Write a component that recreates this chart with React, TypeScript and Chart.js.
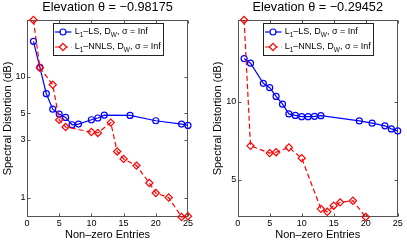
import React, { useEffect, useRef } from 'react';
import { Chart, registerables } from 'chart.js';

Chart.register(...registerables);

// ---------------- data ----------------
const xTickValues = [0, 5, 10, 15, 20, 25];
const xAxisLabel = 'Non–zero Entries';
const yAxisLabel = 'Spectral Distortion (dB)';
const legendLabels = ['L_1–LS, D_W, σ = Inf', 'L_1–NNLS, D_W, σ = Inf'];

const leftTitle = 'Elevation θ = −0.98175';
const leftYTicks = [1, 3, 5, 10];
const leftYRange = [0.69, 29.6];
const leftLsX = [1, 2, 3, 4, 5, 6, 7, 8, 10, 11, 12, 16, 20, 24, 25];
const leftLsY = [19.7, 12.0, 7.25, 5.4, 4.92, 4.61, 4.01, 4.06, 4.41, 4.56, 4.82, 4.79, 4.33, 4.06, 3.96];
const leftNnlsX = [1, 2, 4, 5, 6, 10, 11, 13, 14, 15, 17, 19, 20, 22, 24, 25];
const leftNnlsY = [29.6, 11.9, 8.6, 4.4, 3.84, 3.49, 3.43, 4.18, 2.41, 2.09, 1.84, 1.32, 1.09, 1.0, 0.69, 0.7];

const rightTitle = 'Elevation θ = −0.29452';
const rightYTicks = [5, 10];
const rightYRange = [3.6, 20.7];
const rightLsX = [1, 2, 4, 5, 6, 7, 8, 9, 10, 11, 12, 13, 19, 21, 23, 24, 25];
const rightLsY = [14.7, 14.1, 11.8, 11.35, 10.5, 9.8, 8.99, 8.87, 8.77, 8.77, 8.8, 8.85, 8.45, 8.28, 8.09, 7.87, 7.73];
const rightNnlsX = [1, 2, 5, 6, 8, 10, 13, 14, 15, 16, 18, 20];
const rightNnlsY = [20.7, 6.77, 6.35, 6.4, 6.67, 6.07, 3.87, 3.77, 3.98, 4.1, 4.16, 3.6];

// ---------------- styling ----------------
const FONT = "'Liberation Sans', Arial, Helvetica, sans-serif";
const BLUE = '#0000ff';
const RED = '#ff0000';

const axesBoxPlugin = {
  id: 'axesBox',
  beforeDatasetsDraw(chart: any) {
    const { ctx, chartArea: a, scales } = chart;
    ctx.save();
    ctx.strokeStyle = '#555';
    ctx.lineWidth = 1;
    const L = Math.round(a.left) + 0.5;
    const R = Math.round(a.right) - 0.5;
    const T = Math.round(a.top) + 0.5;
    const B = Math.round(a.bottom) - 0.5;
    ctx.strokeRect(L, T, R - L, B - T);
    const tl = 3;
    ctx.beginPath();
    scales.x.ticks.forEach((t: any) => {
      const px = Math.round(scales.x.getPixelForValue(t.value)) + 0.5;
      ctx.moveTo(px, B);
      ctx.lineTo(px, B - tl);
      ctx.moveTo(px, T);
      ctx.lineTo(px, T + tl);
    });
    scales.y.ticks.forEach((t: any) => {
      const py = Math.round(scales.y.getPixelForValue(t.value)) + 0.5;
      ctx.moveTo(L, py);
      ctx.lineTo(L + tl, py);
      ctx.moveTo(R, py);
      ctx.lineTo(R - tl, py);
    });
    ctx.stroke();
    ctx.restore();
  },
};

function drawRich(ctx: CanvasRenderingContext2D, text: string, x: number, y: number, size: number) {
  const parts = text.split(/(_\w)/);
  let cx = x;
  for (const p of parts) {
    if (!p) continue;
    if (p.startsWith('_')) {
      const s = p.slice(1);
      ctx.font = `${size * 0.72}px ${FONT}`;
      ctx.fillText(s, cx, y + size * 0.32);
      cx += ctx.measureText(s).width;
    } else {
      ctx.font = `${size}px ${FONT}`;
      ctx.fillText(p, cx, y);
      cx += ctx.measureText(p).width;
    }
  }
}

const legendPlugin = {
  id: 'matlabLegend',
  afterDatasetsDraw(chart: any) {
    const { ctx, chartArea: a } = chart;
    const w = 110;
    const h = 32;
    const x0 = Math.round(a.right - 24.6 - w);
    const y0 = Math.round(a.top + 2.7);
    ctx.save();
    ctx.fillStyle = '#fff';
    ctx.fillRect(x0, y0, w, h);
    ctx.strokeStyle = '#222';
    ctx.lineWidth = 1;
    ctx.strokeRect(x0 + 0.5, y0 + 0.5, w, h);
    chart.data.datasets.forEach((ds: any, i: number) => {
      const cy = y0 + 9 + i * 15;
      ctx.strokeStyle = ds.borderColor;
      ctx.lineWidth = ds.borderWidth;
      ctx.setLineDash(ds.borderDash || []);
      ctx.beginPath();
      ctx.moveTo(x0 + 2, cy);
      ctx.lineTo(x0 + 18.5, cy);
      ctx.stroke();
      ctx.setLineDash([]);
      const mx = x0 + 10;
      const r = ds.pointRadius;
      ctx.beginPath();
      if (ds.pointStyle === 'rectRot') {
        ctx.moveTo(mx - r, cy);
        ctx.lineTo(mx, cy - r);
        ctx.lineTo(mx + r, cy);
        ctx.lineTo(mx, cy + r);
        ctx.closePath();
      } else {
        ctx.arc(mx, cy, r, 0, Math.PI * 2);
      }
      ctx.fillStyle = '#fff';
      ctx.fill();
      ctx.stroke();
      ctx.fillStyle = '#000';
      ctx.textBaseline = 'middle';
      ctx.textAlign = 'left';
      drawRich(ctx, legendLabels[i], x0 + 21.7, cy, 9);
    });
    ctx.restore();
  },
};

function toPoints(xs: number[], ys: number[]) {
  return xs.map((x, i) => ({ x, y: ys[i] }));
}

type PanelProps = {
  left: number;
  width: number;
  yAxisWidth: number;
  padRight: number;
  title: string;
  yTicks: number[];
  yRange: number[];
  lsX: number[];
  lsY: number[];
  nnlsX: number[];
  nnlsY: number[];
};

function Panel(p: PanelProps) {
  const ref = useRef<HTMLCanvasElement>(null);
  useEffect(() => {
    if (!ref.current) return;
    const chart = new Chart(ref.current, {
      type: 'line',
      data: {
        datasets: [
          {
            label: legendLabels[0],
            data: toPoints(p.lsX, p.lsY),
            borderColor: BLUE,
            borderWidth: 1.2,
            pointStyle: 'circle',
            pointRadius: 3,
            pointBorderWidth: 1.2,
            pointBorderColor: BLUE,
            pointBackgroundColor: 'rgba(0,0,0,0)',
            fill: false,
            tension: 0,
            clip: false,
            order: 1,
          } as any,
          {
            label: legendLabels[1],
            data: toPoints(p.nnlsX, p.nnlsY),
            borderColor: RED,
            borderWidth: 1.2,
            borderDash: [5, 3],
            pointStyle: 'rectRot',
            pointRadius: 3.6,
            pointBorderWidth: 1.2,
            pointBorderColor: RED,
            pointBackgroundColor: 'rgba(0,0,0,0)',
            fill: false,
            tension: 0,
            clip: false,
            order: 0,
          } as any,
        ],
      },
      options: {
        animation: false,
        responsive: false,
        maintainAspectRatio: false,
        devicePixelRatio: 1,
        layout: { padding: { left: 0, right: p.padRight, top: 0, bottom: 0 } },
        plugins: {
          legend: { display: false },
          tooltip: { enabled: false },
          title: {
            display: true,
            text: p.title,
            fullSize: false,
            color: '#000',
            font: { family: FONT, size: 12.7, weight: 'normal', lineHeight: 1.1 },
            padding: { top: 0.5, bottom: 5.5 },
          },
        },
        scales: {
          x: {
            type: 'linear',
            min: 0,
            max: 25,
            afterBuildTicks: (s: any) => {
              s.ticks = xTickValues.map((v) => ({ value: v }));
            },
            afterFit: (s: any) => {
              s.height = 24;
            },
            ticks: {
              color: '#000',
              font: { family: FONT, size: 9 },
              padding: 1,
              maxRotation: 0,
              autoSkip: false,
            },
            grid: { display: false, drawTicks: false, tickLength: 0 },
            border: { display: false },
            title: {
              display: true,
              text: xAxisLabel,
              color: '#000',
              font: { family: FONT, size: 11, lineHeight: 1.1 },
              padding: { top: 0, bottom: 0 },
            },
          },
          y: {
            type: 'logarithmic',
            min: p.yRange[0],
            max: p.yRange[1],
            afterBuildTicks: (s: any) => {
              s.ticks = p.yTicks.map((v) => ({ value: v }));
            },
            afterFit: (s: any) => {
              s.width = p.yAxisWidth;
            },
            ticks: {
              color: '#000',
              font: { family: FONT, size: 9 },
              padding: 1.5,
              autoSkip: false,
              callback: (v: any) => String(v),
            },
            grid: { display: false, drawTicks: false, tickLength: 0 },
            border: { display: false },
            title: {
              display: true,
              text: yAxisLabel,
              color: '#000',
              font: { family: FONT, size: 11, lineHeight: 1.2 },
              padding: { top: 0.9, bottom: 0 },
            },
          },
        },
      } as any,
      plugins: [axesBoxPlugin, legendPlugin],
    });
    return () => chart.destroy();
  }, []);
  return (
    <canvas
      ref={ref}
      width={p.width}
      height={241}
      style={{ position: 'absolute', left: p.left, top: 0, width: p.width, height: 241 }}
    />
  );
}

export default function App() {
  return (
    <div style={{ position: 'fixed', left: 0, top: 0, width: 407, height: 241, background: '#fff' }}>
      <Panel
        left={0}
        width={210}
        yAxisWidth={27}
        padRight={22}
        title={leftTitle}
        yTicks={leftYTicks}
        yRange={leftYRange}
        lsX={leftLsX}
        lsY={leftLsY}
        nnlsX={leftNnlsX}
        nnlsY={leftNnlsY}
      />
      <Panel
        left={210}
        width={197}
        yAxisWidth={27.7}
        padRight={9.3}
        title={rightTitle}
        yTicks={rightYTicks}
        yRange={rightYRange}
        lsX={rightLsX}
        lsY={rightLsY}
        nnlsX={rightNnlsX}
        nnlsY={rightNnlsY}
      />
    </div>
  );
}
